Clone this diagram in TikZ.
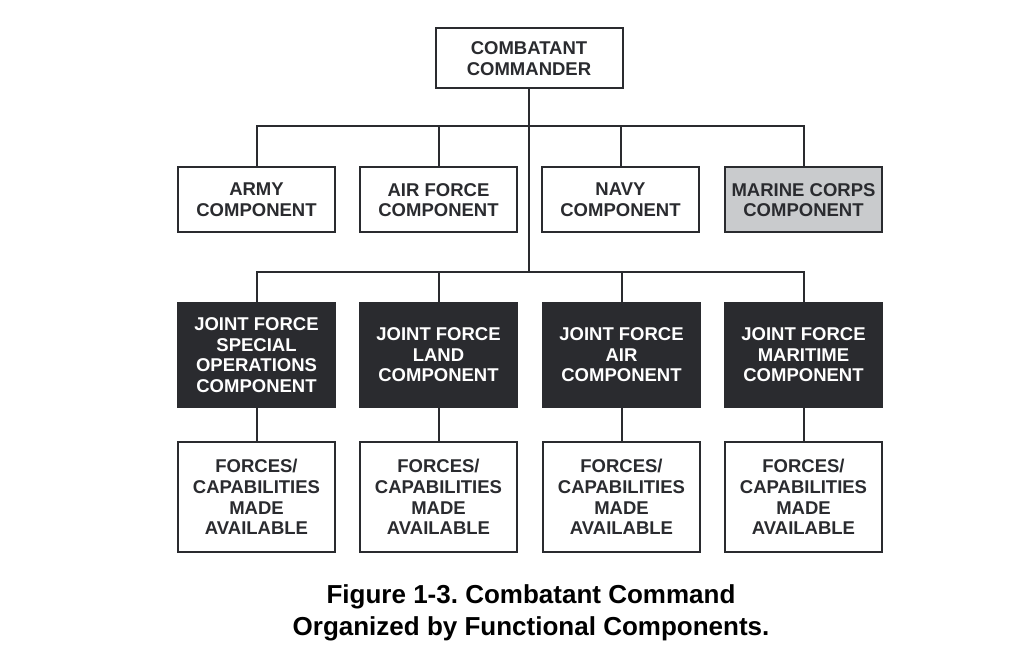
\documentclass[tikz,border=0pt]{standalone}
\usepackage{fontspec}
\setmainfont{Liberation Sans}
\definecolor{ink}{HTML}{2A2B2F}
\definecolor{mgray}{HTML}{C9CBCD}
\frenchspacing
\begin{document}
\begin{tikzpicture}[x=1pt,y=-1pt,
  box/.style={draw=ink,line width=2pt,minimum width=157pt,inner sep=0pt,align=center,
    font=\fontsize{18.5}{20.6}\selectfont\bfseries,text=ink},
  dark/.style={box,fill=ink,text=white},
  link/.style={draw=ink,line width=2pt}]
\useasboundingbox (0,0) rectangle (1024,668);
\fill[white] (0,0) rectangle (1024,668);
\node[box,minimum width=187pt,minimum height=60pt] (cc) at (529,58.5) {COMBATANT\\COMMANDER};
% row 1
\node[box,minimum height=65pt] (army) at (256.5,200) {ARMY\\COMPONENT};
\node[box,minimum height=65pt] (af) at (438.5,200) {AIR FORCE\\COMPONENT};
\node[box,minimum height=65pt] (navy) at (620.5,200) {NAVY\\COMPONENT};
\node[box,minimum height=65pt,fill=mgray] (mc) at (803.5,200) {MARINE CORPS\\COMPONENT};
% row 2
\node[dark,minimum height=104pt] (j1) at (256.5,355) {JOINT FORCE\\SPECIAL\\OPERATIONS\\COMPONENT};
\node[dark,minimum height=104pt] (j2) at (438.5,355) {JOINT FORCE\\LAND\\COMPONENT};
\node[dark,minimum height=104pt] (j3) at (621.5,355) {JOINT FORCE\\AIR\\COMPONENT};
\node[dark,minimum height=104pt] (j4) at (803.5,355) {JOINT FORCE\\MARITIME\\COMPONENT};
% row 3
\foreach \i/\x in {1/256.5,2/438.5,3/621.5,4/803.5}
  \node[box,minimum height=110pt] (f\i) at (\x,497) {FORCES/\\CAPABILITIES\\MADE\\AVAILABLE};
% connectors
\coordinate (h1) at (529,126);
\coordinate (h2) at (529,272);
\draw[link] (cc.south) -- (h2);
\draw[link] (army.north) |- (h1) -| (mc.north);
\draw[link] (af.north) -- (af.north |- h1);
\draw[link] (navy.north) -- (navy.north |- h1);
\draw[link] (j1.north) |- (h2) -| (j4.north);
\draw[link] (j2.north) -- (j2.north |- h2);
\draw[link] (j3.north) -- (j3.north |- h2);
\foreach \i in {1,2,3,4} \draw[link] (j\i.south) -- (f\i.north);
% caption
\node[font=\fontsize{26}{31.5}\selectfont\bfseries,align=center,text=black] (cap) at (531,613)
  {Figure 1-3. Combatant Command\\Organized by Functional Components.};
\end{tikzpicture}
\end{document}
